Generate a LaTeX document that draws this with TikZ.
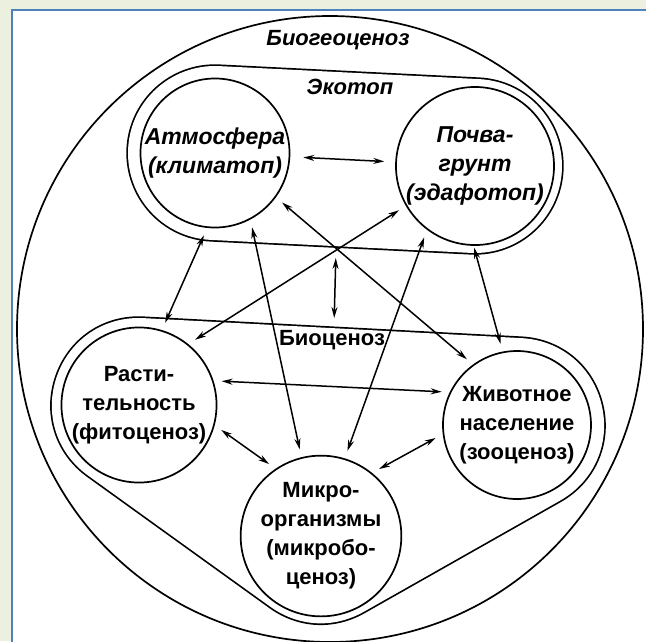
\documentclass[tikz,border=0pt]{standalone}
\usepackage{fontspec}
\setmainfont{Liberation Sans}
\usetikzlibrary{arrows.meta}
\definecolor{paleGreen}{HTML}{EBF1DE}
\definecolor{frameBlue}{HTML}{4F81BD}

\begin{document}
\begin{tikzpicture}[x=1pt, y=-1pt]
        \tikzset{
           ground/.style={
                        circle,
                        draw=black,
                        line width=1.7pt,
                        minimum size=147pt,
                        inner sep=0pt,
                        align=center,
                        font=\fontsize{23}{29}\selectfont\bfseries\itshape
                       },
           biota/.style={
                        circle,
                        draw=black,
                        line width=1.7pt,
                        minimum size=148pt,
                        inner sep=0pt,
                        align=center,
                        font=\fontsize{22}{29}\selectfont\bfseries
                       },
           hull/.style={
                        draw=black,
                        line width=1.7pt,
                        double=white,
                        double distance=174pt,
                        line cap=round,
                        line join=round
                       },
           title/.style={
                        font=\fontsize{22}{29}\selectfont\bfseries\itshape
                       },
           link/.style={
                        <->,
                        >={Stealth[length=11pt,width=6pt]},
                        line width=1.5pt,
                        shorten >=8pt,
                        shorten <=8pt
                       },
                 };
    %--------------------
        \useasboundingbox (0,0) rectangle (646,641);
        \fill[paleGreen] (0,0) rectangle (646,641);
        \filldraw[fill=white, draw=frameBlue, line width=2pt] (12,10) rectangle (680,680);

        \coordinate (atmC)  at (215,153);
        \coordinate (pochC) at (475,166);
        \coordinate (rastC) at (139,405);
        \coordinate (zhivC) at (517,425);
        \coordinate (mikC)  at (321,536);

        \draw[line width=1.7pt] (330,329) circle[radius=313pt];
        \draw[hull] (atmC) -- (pochC);
        \draw[hull] (rastC) -- (zhivC) -- (mikC) -- cycle;
    %--------------------
        \node[title]  (biogeo)  at (338,40)  {Биогеоценоз};
        \node[title]  (ecotope) at (350,87)  {Экотоп};
        \node[font=\fontsize{22}{29}\selectfont\bfseries]
                      (biocen)  at (332,340) {Биоценоз};

        \node[ground] (atm)  at (atmC)  {Атмосфера\\(климатоп)};
        \node[ground] (poch) at (pochC) {Почва-\\грунт\\(эдафотоп)};

        \node[biota]  (rast) at (rastC) {Расти-\\тельность\\(фитоценоз)};
        \node[biota]  (zhiv) at (zhivC) {Животное\\население\\(зооценоз)};
        \node[biota, minimum size=152pt]
                      (mik)  at (mikC)  {Микро-\\организмы\\(микробо-\\ценоз)};

        \coordinate (ecoBottom) at (336,250);
        \coordinate (bioTop)    at (334,326);
    %--------------------
        \path[link] (atm)       edge[shorten >=11pt, shorten <=13pt] (poch)
                    (ecoBottom) edge (bioTop)

                    (rast.73)   edge (atm.264)
                    (atm.-62)   edge (mik.104)
                    (atm.-36)   edge (zhiv.126)

                    (poch.210)  edge (rast.51)
                    (poch.233)  edge (mik.73)
                    (poch.-91)  edge[shorten <=2pt] (zhiv.101)

                    (rast.18)   edge (zhiv.154)
                    (rast.-15)  edge (mik.124)
                    (zhiv.187)  edge (mik.51);
    \end{tikzpicture}
\end{document}
